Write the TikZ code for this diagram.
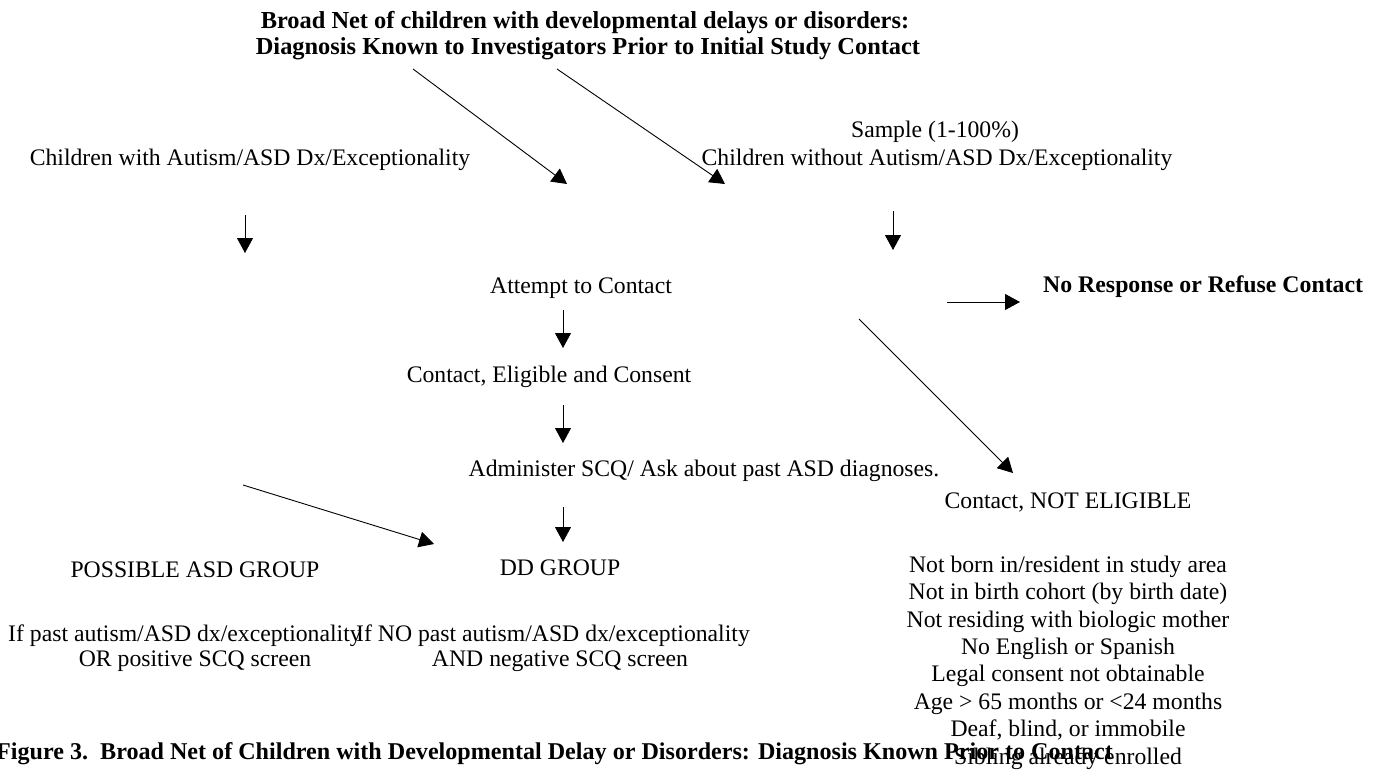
\documentclass[tikz,border=0pt]{standalone}
\usepackage{fontspec}
\setmainfont{Liberation Serif}
\usetikzlibrary{arrows.meta}
\begin{document}
\begin{tikzpicture}[x=1pt,y=-1pt,
  txt/.style={inner sep=0pt,anchor=base,font=\fontsize{23.7}{27.4}\selectfont},
  btxt/.style={txt,font=\fontsize{24.4}{27.4}\selectfont\bfseries},
  arr/.style={line width=0.9pt,-{Triangle[length=15pt,width=16pt]}}]
\useasboundingbox (0,0) rectangle (1379,771);
% title
\node[btxt] (t1) at (585,28) {Broad Net of children with developmental delays or disorders:};
\node[btxt] (t2) at (588,54) {Diagnosis Known to Investigators Prior to Initial Study Contact};
% branches
\node[txt] (withasd) at (250,165) {Children with Autism/ASD Dx/Exceptionality};
\node[txt] (sample) at (935,137) {Sample (1-100\%)};
\node[txt] (without) at (937,165) {Children without Autism/ASD Dx/Exceptionality};
\node[txt] (attempt) at (581,293) {Attempt to Contact};
\node[btxt,font=\fontsize{23.8}{27.4}\selectfont\bfseries,anchor=base west] (noresp) at (1043,292) {No Response or Refuse Contact};
\node[txt] (eligible) at (549,382) {Contact, Eligible and Consent};
\node[txt] (scq) at (704,476) {Administer SCQ/ Ask about past ASD diagnoses.};
\node[txt] (notelig) at (1068,508) {Contact, NOT ELIGIBLE};
\node[txt] (asdgrp) at (195,577) {POSSIBLE ASD GROUP};
\node[txt] (ddgrp) at (560,575) {DD GROUP};
\node[txt,anchor=base west] (ifpast1) at (8,641) {If past autism/ASD dx/exceptionality};
\node[txt] (ifpast2) at (195,666) {OR positive SCQ screen};
\node[txt] (ifno1) at (553,641) {If NO past autism/ASD dx/exceptionality};
\node[txt] (ifno2) at (560,666) {AND negative SCQ screen};
\node[txt,align=center,anchor=base] (reasons) at (1068,764) {Not born in/resident in study area\\Not in birth cohort (by birth date)\\Not residing with biologic mother\\No English or Spanish\\Legal consent not obtainable\\Age > 65 months or <24 months\\Deaf, blind, or immobile\\Sibling already enrolled};
\node[btxt,font=\fontsize{24.1}{27.4}\selectfont\bfseries,anchor=base east] (caption) at (1113,759) {Figure 3.\ \ Broad Net of Children with Developmental Delay or Disorders: Diagnosis Known Prior to Contact};
% arrow end points
\coordinate (a1s) at (413,69); \coordinate (a1e) at (567,184);
\coordinate (a2s) at (557,69); \coordinate (a2e) at (725,184);
\coordinate (lds) at (245,215); \coordinate (lde) at (245,253);
\coordinate (rds) at (893,211); \coordinate (rde) at (893,250);
\coordinate (d1s) at (563,310); \coordinate (d1e) at (563,348);
\coordinate (rs) at (947,302); \coordinate (re) at (1020,302);
\coordinate (dgs) at (859,319); \coordinate (dge) at (1013,473);
\coordinate (d2s) at (563,405); \coordinate (d2e) at (563,443);
\coordinate (d3s) at (563,507); \coordinate (d3e) at (563,542);
\coordinate (ls) at (243,485); \coordinate (le) at (434,544);
\draw[arr] (a1s) -- (a1e);
\draw[arr] (a2s) -- (a2e);
\draw[arr] (lds) -- (lde);
\draw[arr] (rds) -- (rde);
\draw[arr] (d1s) -- (d1e);
\draw[arr] (rs) -- (re);
\draw[arr] (dgs) -- (dge);
\draw[arr] (d2s) -- (d2e);
\draw[arr] (d3s) -- (d3e);
\draw[arr] (ls) -- (le);
\end{tikzpicture}
\end{document}
